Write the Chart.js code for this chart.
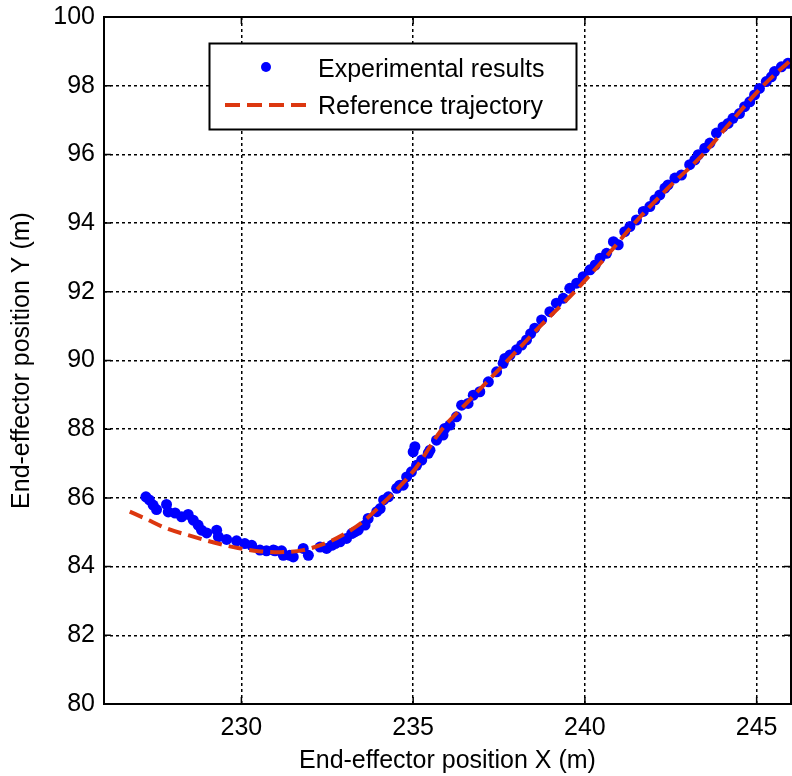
<!DOCTYPE html>
<html><head><meta charset="utf-8">
<script src="https://cdn.jsdelivr.net/npm/chart.js@4/dist/chart.umd.min.js"></script>
<style>html,body{margin:0;padding:0;background:#fff}#wrap{width:792px;height:776px}</style>
</head><body><div id="wrap"><canvas id="c" width="792" height="776"></canvas></div>
<script>
const seriesNames = ['Experimental results', 'Reference trajectory'];
const xTitle = 'End-effector position X (m)';
const yTitle = 'End-effector position Y (m)';
const xTicks = [230, 235, 240, 245];
const yTicks = [80, 82, 84, 86, 88, 90, 92, 94, 96, 98, 100];

const expX = [227.22,227.32,227.43,227.53,227.82,227.87,228.07,228.26,228.45,228.60,228.74,228.84,228.99,229.28,229.33,229.57,229.86,230.10,230.30,230.54,230.73,230.93,230.98,231.17,231.22,231.41,231.51,231.80,231.95,232.29,232.48,232.63,232.73,232.87,233.06,233.21,233.30,233.40,233.60,233.69,233.94,234.04,234.14,234.28,234.52,234.61,234.71,234.81,234.95,235.00,235.05,235.10,235.25,235.44,235.49,235.68,235.87,235.92,236.07,236.26,236.41,236.60,236.75,236.94,237.19,237.43,237.62,237.67,237.82,238.01,238.16,238.30,238.42,238.54,238.74,238.98,239.17,239.37,239.56,239.76,239.95,240.15,240.30,240.44,240.63,240.83,240.97,241.16,241.31,241.50,241.70,241.89,242.04,242.18,242.33,242.42,242.62,242.81,243.05,243.20,243.30,243.49,243.64,243.83,244.02,244.17,244.31,244.50,244.65,244.80,244.94,245.08,245.28,245.43,245.52,245.72,245.91];
const expY = [86.03,85.94,85.79,85.66,85.81,85.59,85.56,85.45,85.52,85.35,85.21,85.06,84.98,85.06,84.87,84.79,84.75,84.67,84.62,84.48,84.46,84.48,84.46,84.46,84.33,84.33,84.28,84.53,84.33,84.57,84.53,84.62,84.67,84.72,84.82,84.96,85.01,85.06,85.21,85.40,85.60,85.69,85.94,86.03,86.28,86.37,86.37,86.61,86.76,87.34,87.49,86.95,87.10,87.30,87.39,87.68,87.83,88.02,88.12,88.36,88.70,88.75,88.99,89.09,89.38,89.67,89.92,90.06,90.16,90.31,90.45,90.60,90.78,90.94,91.18,91.42,91.67,91.81,92.10,92.25,92.44,92.64,92.78,92.98,93.12,93.46,93.37,93.75,93.90,94.09,94.34,94.48,94.68,94.82,95.02,95.11,95.31,95.40,95.70,95.84,95.99,96.18,96.33,96.62,96.80,96.90,97.05,97.19,97.39,97.53,97.73,97.92,98.12,98.26,98.41,98.55,98.65];

const refX = [226.75,227.2,227.8,228.5,229.2,229.9,230.5,231.1,231.8,232.5,233.0,233.5,234.1,234.6,235.1,235.8,236.5,237.75,238.7,239.7,240.6,241.45,242.4,243.44,244.3,245.19,246.0];
const refY = [85.6,85.4,85.12,84.9,84.7,84.54,84.45,84.42,84.48,84.7,84.95,85.28,85.82,86.32,86.9,87.95,88.7,90.0,91.0,92.0,93.0,94.0,95.0,96.0,97.0,98.0,98.75];

const FONT = 'Liberation Sans, Arial, sans-serif';
const BLUE = '#0000ff';
const RED = 'rgb(220,55,15)';

const framePlugin = {
  id: 'frame',
  afterDraw(chart) {
    const {ctx, chartArea: a, scales} = chart;
    ctx.save();
    ctx.strokeStyle = '#000';
    ctx.lineWidth = 2;
    ctx.setLineDash([]);
    ctx.strokeRect(a.left, a.top, a.right - a.left, a.bottom - a.top);
    ctx.lineWidth = 1.5;
    const tl = 7;
    ctx.beginPath();
    xTicks.forEach(v => {
      const px = scales.x.getPixelForValue(v);
      ctx.moveTo(px, a.bottom); ctx.lineTo(px, a.bottom - tl);
      ctx.moveTo(px, a.top); ctx.lineTo(px, a.top + tl);
    });
    yTicks.forEach(v => {
      const py = scales.y.getPixelForValue(v);
      ctx.moveTo(a.left, py); ctx.lineTo(a.left + tl, py);
      ctx.moveTo(a.right, py); ctx.lineTo(a.right - tl, py);
    });
    ctx.stroke();
    // legend
    const bx = 209.5, by = 43.5, bw = 367, bh = 86;
    ctx.fillStyle = '#fff';
    ctx.fillRect(bx, by, bw, bh);
    ctx.lineWidth = 2;
    ctx.strokeStyle = '#000';
    ctx.strokeRect(bx, by, bw, bh);
    ctx.fillStyle = BLUE;
    ctx.beginPath(); ctx.arc(266, 67, 5, 0, Math.PI * 2); ctx.fill();
    ctx.strokeStyle = RED; ctx.lineWidth = 4; ctx.setLineDash([15, 7]);
    ctx.beginPath(); ctx.moveTo(225, 105); ctx.lineTo(307, 105); ctx.stroke();
    ctx.setLineDash([]);
    ctx.fillStyle = '#000';
    ctx.font = '25px ' + FONT;
    ctx.textBaseline = 'alphabetic';
    ctx.textAlign = 'left';
    ctx.fillText(seriesNames[0], 318, 77);
    ctx.fillText(seriesNames[1], 318, 114);
    ctx.restore();
  }
};

new Chart(document.getElementById('c'), {
  type: 'scatter',
  data: {
    datasets: [
      {
        label: seriesNames[0],
        data: expX.map((x, i) => ({x, y: expY[i]})),
        backgroundColor: BLUE,
        borderColor: BLUE,
        borderWidth: 0,
        pointRadius: 5.5,
        pointHoverRadius: 5.5,
        clip: 0,
        order: 1
      },
      {
        label: seriesNames[1],
        data: refX.map((x, i) => ({x, y: refY[i]})),
        showLine: true,
        borderColor: RED,
        backgroundColor: RED,
        borderWidth: 4,
        borderDash: [14, 7],
        pointRadius: 0,
        pointHoverRadius: 0,
        cubicInterpolationMode: 'monotone',
        fill: false,
        clip: 0,
        order: 0
      }
    ]
  },
  options: {
    responsive: false,
    animation: false,
    devicePixelRatio: 1,
    layout: {autoPadding: false, padding: {top: 17, right: 1, left: 0, bottom: 0}},
    plugins: {legend: {display: false}, tooltip: {enabled: false}},
    scales: {
      x: {
        type: 'linear', min: 226, max: 246,
        afterBuildTicks: s => { s.ticks = xTicks.map(v => ({value: v})); },
        afterFit: s => { s.height = 72; s.paddingLeft = 0; s.paddingRight = 0; },
        grid: {color: '#000', lineWidth: 1.5, drawTicks: false},
        border: {display: false, dash: [3, 3]},
        ticks: {color: '#000', font: {family: FONT, size: 25}, padding: 9, maxRotation: 0, autoSkip: false},
        title: {display: true, text: xTitle, color: '#000', font: {family: FONT, size: 25}, padding: {top: 0, bottom: 0}}
      },
      y: {
        type: 'linear', min: 80, max: 100,
        afterBuildTicks: s => { s.ticks = yTicks.map(v => ({value: v})); },
        afterFit: s => { s.width = 104; s.paddingTop = 0; s.paddingBottom = 0; },
        grid: {color: '#000', lineWidth: 1.5, drawTicks: false},
        border: {display: false, dash: [3, 3]},
        ticks: {color: '#000', font: {family: FONT, size: 25}, padding: 9, autoSkip: false},
        title: {display: true, text: yTitle, color: '#000', font: {family: FONT, size: 25}, padding: {top: 7, bottom: 0}}
      }
    }
  },
  plugins: [framePlugin]
});
</script>
</body></html>
